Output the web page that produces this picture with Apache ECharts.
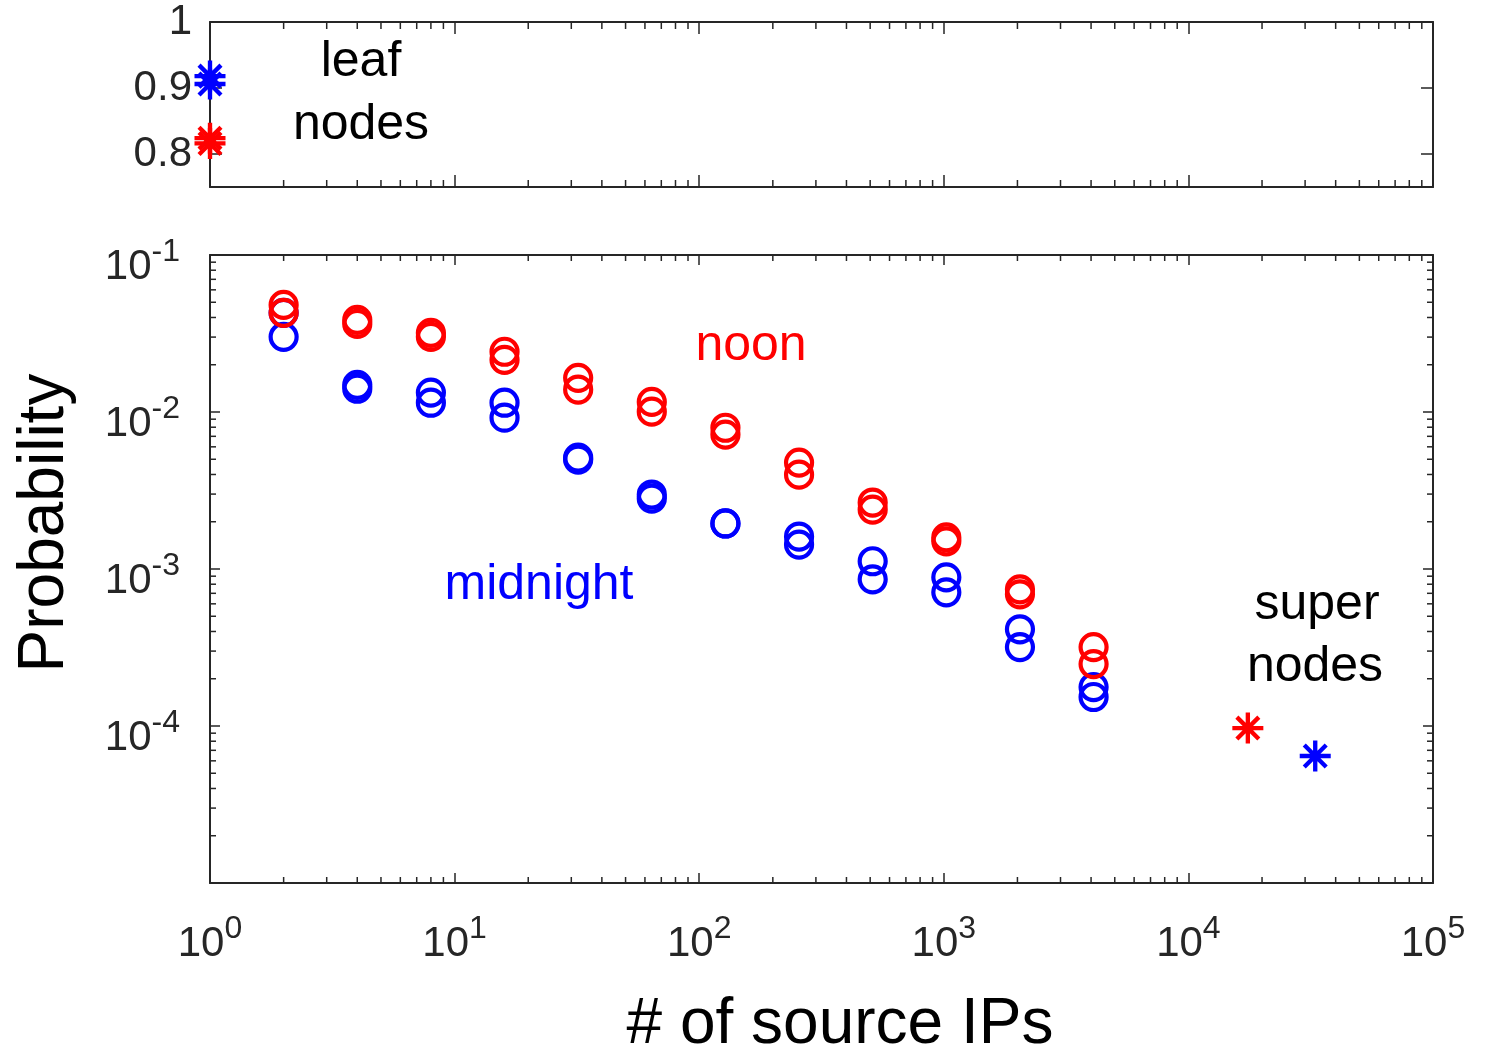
<!DOCTYPE html>
<html>
<head>
<meta charset="utf-8">
<script src="https://cdn.jsdelivr.net/npm/echarts@6/dist/echarts.min.js"></script>
<style>
  html, body { margin: 0; padding: 0; background: #fff; }
  #chart { width: 1490px; height: 1051px; }
</style>
</head>
<body>
<div id="chart"></div>
<script>
// number of source IPs (bins)
const xBins = [2, 4, 8, 16, 32, 64, 128, 256, 512, 1024, 2048, 4096]

// probability per bin, two overlapping traces for each time of day
const noonA = [0.0481, 0.0386, 0.0319, 0.0242, 0.0165, 0.0116, 0.00794, 0.00476, 0.00265, 0.00159, 0.000742, 0.000318]
const noonB = [0.0428, 0.0364, 0.0301, 0.0215, 0.0139, 0.01005, 0.00718, 0.00399, 0.00239, 0.00150, 0.000690, 0.000248]
const midnightA = [0.0428, 0.0149, 0.0133, 0.01146, 0.00512, 0.00298, 0.00195, 0.00161, 0.00112, 0.000885, 0.000413, 0.000177]
const midnightB = [0.0301, 0.01407, 0.01146, 0.0092, 0.00498, 0.00281, 0.00195, 0.00143, 0.000859, 0.000710, 0.000318, 0.000153]

// leaf nodes (x = 1) and super nodes
const leafNoon = [0.824, 0.816]
const leafMidnight = [0.918, 0.906]
const superNoon = [[17500, 9.7e-5]]
const superMidnight = [[33000, 6.44e-5]]

// ticks
const topYTicks = [0.8, 0.9, 1]
const minorMantissa = [2, 3, 4, 5, 6, 7, 8, 9]
const xDecades = [1, 10, 100, 1000, 10000]
const yDecades = [1e-5, 1e-4, 1e-3, 1e-2]

const RED = '#ff0000'
const BLUE = '#0000ff'
const AXIS = '#262626'
const FONT = 'Liberation Sans, Arial, Helvetica, sans-serif'

// matlab-like asterisk marker
const STAR = 'path://M43 0L57 0L57 100L43 100Z M0 43L100 43L100 57L0 57Z ' +
  'M9.65 19.55L19.55 9.65L90.35 80.45L80.45 90.35Z M80.45 9.65L90.35 19.55L19.55 90.35L9.65 80.45Z'

const minorX = xDecades.flatMap(d => minorMantissa.map(m => m * d))
const minorY = yDecades.flatMap(d => minorMantissa.map(m => m * d))

const zip = (xs, ys) => xs.map((x, i) => [x, ys[i]])

const expLabel = v => {
  const e = Math.round(Math.log10(v))
  if (e === -5) return ''
  return '{b|10}{s|' + e + '}'
}
const richExp = {
  b: { fontSize: 42, lineHeight: 52, verticalAlign: 'bottom', color: AXIS, fontFamily: FONT },
  s: { fontSize: 32, lineHeight: 32, verticalAlign: 'top', color: AXIS, fontFamily: FONT },
}

function logX(grid, position, len, labels) {
  return {
    gridIndex: grid, type: 'log', logBase: 10, min: 1, max: 1e5, position,
    axisLine: { show: true, onZero: false, lineStyle: { color: AXIS, width: 2 } },
    axisTick: { show: true, inside: true, length: len, lineStyle: { color: AXIS, width: 1.5 } },
    axisLabel: labels
      ? { show: true, margin: 30, formatter: expLabel, rich: richExp }
      : { show: false },
    splitLine: { show: false },
  }
}

function logY(position, labels) {
  return {
    gridIndex: 1, type: 'log', logBase: 10, min: 1e-5, max: 1e-1, position,
    axisLine: { show: true, onZero: false, lineStyle: { color: AXIS, width: 2 } },
    axisTick: { show: true, inside: true, length: 10, lineStyle: { color: AXIS, width: 1.5 } },
    axisLabel: labels
      ? { show: true, margin: 30, padding: [14, 0, 0, 0], formatter: expLabel, rich: richExp }
      : { show: false },
    splitLine: { show: false },
  }
}

function linY(position, labels) {
  return {
    gridIndex: 0, type: 'value', min: 0.75, max: 1, position,
    axisLine: { show: true, onZero: false, lineStyle: { color: AXIS, width: 2 } },
    axisTick: { show: true, inside: true, length: 12, customValues: topYTicks, lineStyle: { color: AXIS, width: 1.5 } },
    axisLabel: labels
      ? {
          show: true, margin: 18, customValues: topYTicks, fontSize: 42, color: AXIS, fontFamily: FONT,
          formatter: v => (Math.abs(v - 1) < 1e-9 ? '1' : v.toFixed(1)),
        }
      : { show: false },
    splitLine: { show: false },
  }
}

// minor log ticks drawn on both opposite edges of a grid
function minorTicks(dir, len) {
  return (params, api) => {
    const cs = params.coordSys
    const p = api.coord([api.value(0), api.value(1)])
    const st = { stroke: AXIS, lineWidth: 1.5 }
    if (dir === 'x') {
      return { type: 'group', children: [
        { type: 'line', shape: { x1: p[0], y1: cs.y + cs.height, x2: p[0], y2: cs.y + cs.height - len }, style: st },
        { type: 'line', shape: { x1: p[0], y1: cs.y, x2: p[0], y2: cs.y + len }, style: st },
      ] }
    }
    return { type: 'group', children: [
      { type: 'line', shape: { x1: cs.x, y1: p[1], x2: cs.x + len, y2: p[1] }, style: st },
      { type: 'line', shape: { x1: cs.x + cs.width, y1: p[1], x2: cs.x + cs.width - len, y2: p[1] }, style: st },
    ] }
  }
}

const circle = (name, color, data) => ({
  name, type: 'scatter', xAxisIndex: 2, yAxisIndex: 2, data, clip: false,
  symbol: 'circle', symbolSize: 26,
  itemStyle: { color: 'rgba(0,0,0,0)', borderColor: color, borderWidth: 4.2, opacity: 1 },
})

const star = (name, color, data, ax) => ({
  name, type: 'scatter', xAxisIndex: ax, yAxisIndex: ax, data, clip: false,
  symbol: STAR, symbolSize: 31,
  itemStyle: { color, opacity: 1 },
  z: 4,
})

const text = (t, x, y, size, color, rotation) => ({
  type: 'text', x, y, rotation: rotation || 0,
  style: { text: t, fontSize: size, fontFamily: FONT, fill: color, align: 'center', verticalAlign: 'middle' },
})

const chart = echarts.init(document.getElementById('chart'))
chart.setOption({
  animation: false,
  backgroundColor: '#fff',
  grid: [
    { left: 210, top: 22, width: 1223, height: 165 },
    { left: 210, top: 255, width: 1223, height: 628 },
  ],
  xAxis: [
    logX(0, 'bottom', 12, false),
    logX(0, 'top', 12, false),
    logX(1, 'bottom', 10, true),
    logX(1, 'top', 10, false),
  ],
  yAxis: [
    linY('left', true),
    linY('right', false),
    logY('left', true),
    logY('right', false),
  ],
  series: [
    circle('midnight', BLUE, zip(xBins, midnightA)),
    circle('midnight', BLUE, zip(xBins, midnightB)),
    circle('noon', RED, zip(xBins, noonA)),
    circle('noon', RED, zip(xBins, noonB)),
    star('leaf midnight', BLUE, leafMidnight.map(v => [1, v]), 0),
    star('leaf noon', RED, leafNoon.map(v => [1, v]), 0),
    star('super noon', RED, superNoon, 2),
    star('super midnight', BLUE, superMidnight, 2),
    {
      type: 'custom', xAxisIndex: 0, yAxisIndex: 0, clip: false, silent: true,
      renderItem: minorTicks('x', 7), data: minorX.map(v => [v, 0.9]),
    },
    {
      type: 'custom', xAxisIndex: 2, yAxisIndex: 2, clip: false, silent: true,
      renderItem: minorTicks('x', 6), data: minorX.map(v => [v, 1e-3]),
    },
    {
      type: 'custom', xAxisIndex: 2, yAxisIndex: 2, clip: false, silent: true,
      renderItem: minorTicks('y', 6), data: minorY.map(v => [10, v]),
    },
  ],
  graphic: [
    text('leaf', 361, 62, 50, '#000'),
    text('nodes', 361, 125, 50, '#000'),
    text('noon', 751, 346, 50, RED),
    text('midnight', 539, 585, 50, BLUE),
    text('super', 1317, 605, 50, '#000'),
    text('nodes', 1315, 667, 50, '#000'),
    text('Probability', 45, 523, 64, '#000', Math.PI / 2),
    text('# of source IPs', 840, 1025, 64, '#000'),
  ],
})
</script>
</body>
</html>
